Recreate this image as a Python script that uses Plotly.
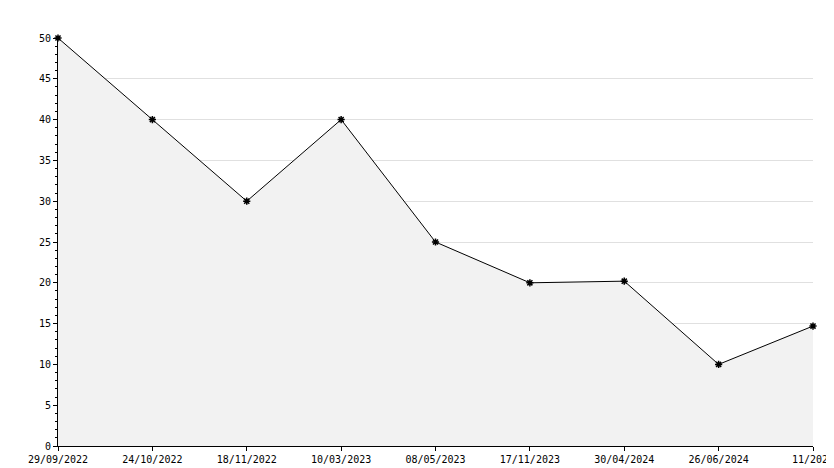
import plotly.graph_objects as go

dates = ["29/09/2022", "24/10/2022", "18/11/2022", "10/03/2023", "08/05/2023",
         "17/11/2023", "30/04/2024", "26/06/2024", "11/2025"]
values = [50, 40, 30, 40, 25, 20, 20.2, 10, 14.7]
y_ticks = [0, 5, 10, 15, 20, 25, 30, 35, 40, 45, 50]

fig = go.Figure(go.Scatter(
    x=dates, y=values, mode="lines+markers", cliponaxis=False,
    line=dict(color="black", width=1),
    marker=dict(color="black", size=6, symbol="asterisk-open", line=dict(color="black", width=1.5)),
    fill="tozeroy", fillcolor="#f2f2f2",
))
fig.update_layout(
    width=834, height=468, margin=dict(l=50, r=29, t=30, b=30, autoexpand=False),
    plot_bgcolor="white", paper_bgcolor="white", showlegend=False,
    font=dict(family="DejaVu Sans Mono", size=10, color="black"),
)
fig.update_xaxes(type="category", range=[0, 8], showgrid=False, showline=True, automargin=False,
                 linecolor="black", ticks="outside", ticklen=4, tickcolor="black")
fig.update_yaxes(range=[0, 50], tickvals=y_ticks, showgrid=True, gridcolor="#e0e0e0",
                 showline=True, linecolor="black", ticks="outside", ticklen=4, automargin=False,
                 tickcolor="black", zeroline=False,
                 minor=dict(dtick=1, ticks="outside", ticklen=2, tickcolor="black", showgrid=False))
fig.write_html("out.html")
